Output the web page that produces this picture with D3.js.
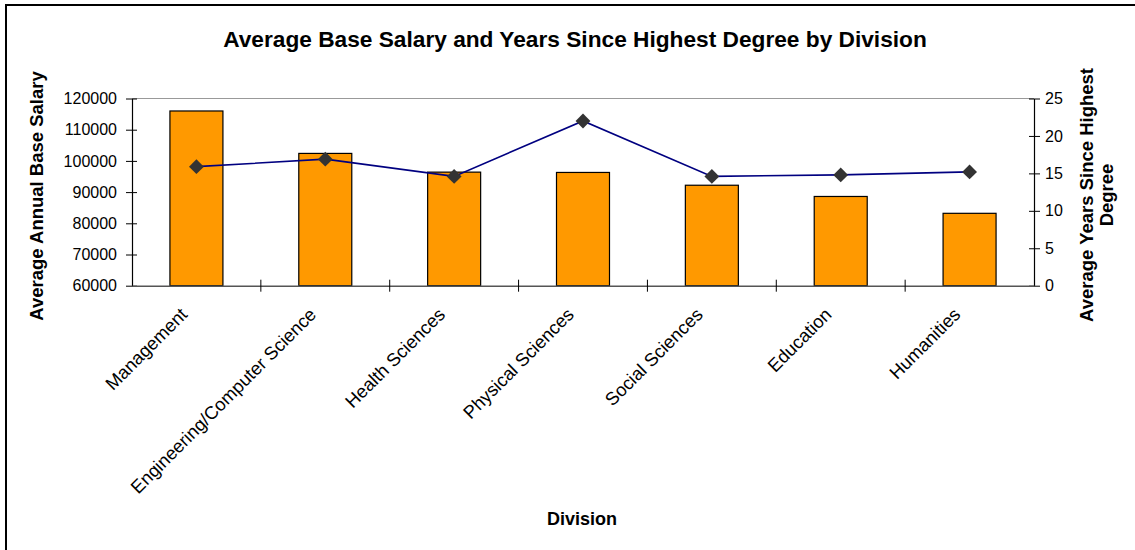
<!DOCTYPE html>
<html><head><meta charset="utf-8">
<script src="https://cdn.jsdelivr.net/npm/d3@7/dist/d3.min.js"></script>
<style>body{margin:0;background:#fff;} svg{display:block;} text{font-family:Arial,"Liberation Sans",sans-serif;}</style>
</head><body>
<svg id="c" width="1135" height="550"></svg>
<script>
const categories = ["Management","Engineering/Computer Science","Health Sciences","Physical Sciences","Social Sciences","Education","Humanities"];
const salary = [116000,102400,96400,96300,92200,88600,83200];
const years = [15.9,16.9,14.6,22.0,14.6,14.8,15.2];
const salaryTicks = [60000,70000,80000,90000,100000,110000,120000];
const yearTicks = [0,5,10,15,20,25];

const svg = d3.select("#c");
const L=132, R=1034, T=98.5, B=285.7;

svg.append("rect").attr("x",6).attr("y",5).attr("width",1140).attr("height",560)
  .attr("fill","none").attr("stroke","#000").attr("stroke-width",2);

const xc = d3.scaleBand().domain(categories).range([L,R]);
const y = d3.scaleLinear().domain([60000,120000]).range([B,T]);
const y2 = d3.scaleLinear().domain([0,25]).range([B,T]);

// top gridline
svg.append("line").attr("x1",L).attr("x2",R).attr("y1",y(120000)).attr("y2",y(120000))
  .attr("stroke","#999").attr("stroke-width",1);

svg.selectAll("rect.bar").data(categories).enter().append("rect").attr("class","bar")
  .attr("x",d=>xc(d)+xc.bandwidth()/2-26.5).attr("width",53)
  .attr("y",(d,i)=>y(salary[i])).attr("height",(d,i)=>B-y(salary[i]))
  .attr("fill","#FF9900").attr("stroke","#000").attr("stroke-width",1.2);

// left axis
const ga = svg.append("g").attr("transform",`translate(${L},0)`)
  .call(d3.axisLeft(y).tickValues(salaryTicks).tickFormat(d3.format("d")).tickSizeInner(6).tickSizeOuter(0));
ga.select(".domain").attr("stroke","#000").attr("stroke-width",1.2);
ga.selectAll(".tick line").attr("x2",5).attr("x1",-6).attr("stroke","#000");
ga.selectAll(".tick text").attr("x",-15).attr("font-size",16).attr("fill","#000").attr("font-family","Arial, 'Liberation Sans', sans-serif");

// right axis
const gr = svg.append("g").attr("transform",`translate(${R},0)`)
  .call(d3.axisRight(y2).tickValues(yearTicks).tickSizeInner(6).tickSizeOuter(0));
gr.select(".domain").attr("stroke","#000").attr("stroke-width",1.2);
gr.selectAll(".tick line").attr("x1",-5).attr("x2",6).attr("stroke","#000");
gr.selectAll(".tick text").attr("x",11).attr("font-size",16).attr("fill","#000").attr("font-family","Arial, 'Liberation Sans', sans-serif");

// bottom axis
const gb = svg.append("g").attr("transform",`translate(0,${B})`)
  .call(d3.axisBottom(xc).tickSize(0).tickFormat(""));
gb.select(".domain").attr("stroke","#555").attr("stroke-width",1.5);
svg.selectAll("line.ctick").data(categories.slice(1)).enter().append("line").attr("class","ctick")
  .attr("x1",d=>xc(d)).attr("x2",d=>xc(d)).attr("y1",B-6).attr("y2",B+6).attr("stroke","#000");

svg.selectAll("text.cat").data(categories).enter().append("text").attr("class","cat")
  .attr("transform",d=>`translate(${xc(d)+xc.bandwidth()/2-8},${B+30}) rotate(-45)`)
  .attr("text-anchor","end").attr("font-size",18.3).text(d=>d);

// line
const line = d3.line().x((d,i)=>xc(categories[i])+xc.bandwidth()/2).y(d=>y2(d));
svg.append("path").datum(years).attr("d",line).attr("fill","none").attr("stroke","#000080").attr("stroke-width",1.6);
svg.selectAll("path.mk").data(years).enter().append("path").attr("class","mk")
  .attr("d",d3.symbol(d3.symbolSquare, 110))
  .attr("transform",(d,i)=>`translate(${xc(categories[i])+xc.bandwidth()/2},${y2(d)}) rotate(45)`)
  .attr("fill","#333");

// titles
svg.append("text").attr("x",575).attr("y",47).attr("text-anchor","middle").attr("font-size",22.7).attr("font-weight","bold").text("Average Base Salary and Years Since Highest Degree by Division");
svg.append("text").attr("x",582).attr("y",525).attr("text-anchor","middle").attr("font-size",18).attr("font-weight","bold").text("Division");
svg.append("text").attr("transform",`translate(43,196) rotate(-90)`).attr("text-anchor","middle").attr("font-size",18.5).attr("font-weight","bold").text("Average Annual Base Salary");
const rt = svg.append("text").attr("transform",`translate(1093,195) rotate(-90)`).attr("text-anchor","middle").attr("font-size",18.5).attr("font-weight","bold");
rt.append("tspan").attr("x",0).attr("dy",0).text("Average Years Since Highest");
rt.append("tspan").attr("x",0).attr("dy",20).text("Degree");
</script>
</body></html>
